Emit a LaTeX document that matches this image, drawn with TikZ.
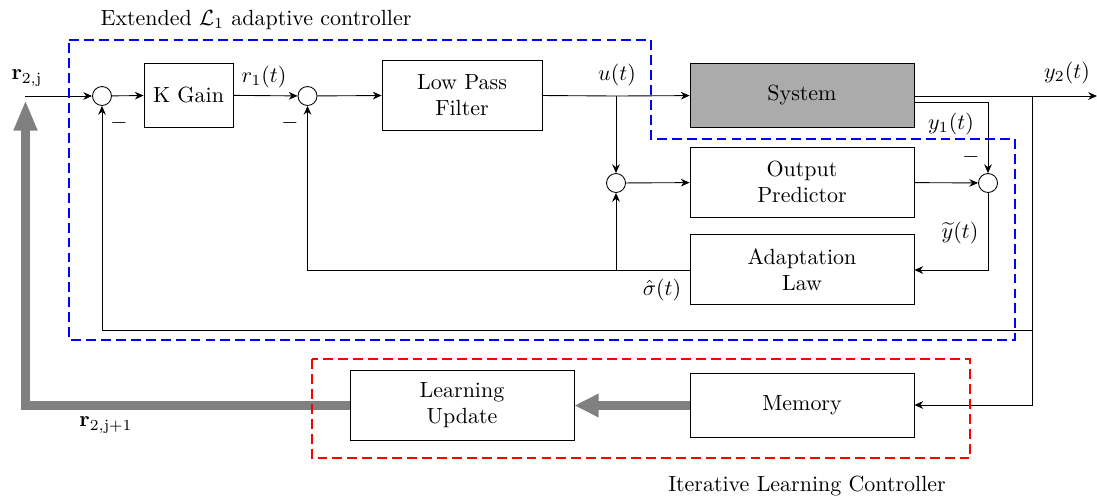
\documentclass[tikz,border=0pt]{standalone}
\usetikzlibrary{calc}
\usetikzlibrary{arrows.meta}

\tikzset{
  block/.style={draw, minimum width=3.584cm, minimum height=1.024cm, align=center},
  tallblock/.style={block, minimum height=1.12cm},
  sumnode/.style={draw, circle, minimum size=0.304cm, inner sep=0pt},
  sig/.style={-{Stealth[length=4pt,width=3.5pt]}},
  fatline/.style={draw=gray, line width=4pt},
  grouplc/.style={thick, dash pattern=on 4.5pt off 2.3pt},
  lbl/.style={inner sep=1pt},
}

\begin{document}
\begin{tikzpicture}[x=0.016cm,y=-0.016cm]

\useasboundingbox (0,0) rectangle (1097,498);

% controller blocks
\node[sumnode] (S1) at (102,96) {};
\node[block, minimum width=1.424cm] (K) at (188.5,95) {K Gain};
\node[sumnode] (S2) at (307.5,96) {};
\node[tallblock, minimum width=2.56cm] (LPF) at (462,95) {Low Pass\\Filter};
\node[block, fill=black!33] (SYS) at (802,95) {System};
\node[tallblock] (OP) at (802,182) {Output\\Predictor};
\node[tallblock] (AL) at (802,269.5) {Adaptation\\Law};
\node[sumnode] (S3) at (616,183) {};
\node[sumnode] (S4) at (988,183) {};

% learning blocks
\node[block] (MEM) at (802,405) {Memory};
\node[tallblock] (LU) at (462,405) {Learning\\Update};

% branch points
\coordinate (rin) at (25,96);
\coordinate (ubr) at (616,96);
\coordinate (yout) at (1097,96);
\coordinate (ybr) at (1032,96);
\coordinate (y1a) at (914,102);
\coordinate (sbr) at (616,270);
\coordinate (rtip) at (25.5,100);

% signals
\draw[sig] (rin) -- (S1);
\draw[sig] (S1) -- (K);
\draw[sig] (K) -- (S2);
\draw[sig] (S2) -- (LPF);
\draw (LPF) -- (ubr);
\draw[sig] (ubr) -- (SYS);
\draw[sig] (ubr) -- (S3);
\draw[sig] (S3) -- (OP);
\draw[sig] (SYS.east |- ybr) -- (yout);
\draw[sig] (y1a) -| (S4);
\draw[sig] (OP) -- (S4);
\draw[sig] (S4) |- (AL.east |- sbr);
\draw[sig] (AL.west |- sbr) -| (S2);
\draw[sig] (sbr) -- (S3);
\draw[sig] (ybr) |- (S1 |- 0,330) -- (S1);
\draw[sig] (ybr) |- (MEM.east |- 0,405);

% learning path
\draw[fatline, -{Triangle[length=11pt,width=10pt]}] (MEM.west |- 0,405.5) -- (LU.east |- 0,405.5);
\draw[fatline, -{Triangle[length=14pt,width=10pt]}] (LU.west |- 0,405.5) -| (rtip);

% labels
\node[lbl] (lr2j) at (27,78) {$\mathbf{r}_{2,\mathrm{j}}$};
\node[lbl] (lr2j1) at (106,425) {$\mathbf{r}_{2,\mathrm{j+1}}$};
\node[lbl] (lr1) at (264,77) {$r_1(t)$};
\node[lbl] (lu) at (617,75) {$u(t)$};
\node[lbl] (ly2) at (1067,73) {$y_2(t)$};
\node[lbl] (ly1) at (951,124) {$y_1(t)$};
\node[lbl] (lyt) at (960,233) {$\widetilde{y}(t)$};
\node[lbl] (lsig) at (662,290) {$\hat{\sigma}(t)$};
\node[lbl] (m1) at (119,123) {$-$};
\node[lbl] (m2) at (290,123) {$-$};
\node[lbl] (m4) at (971,157) {$-$};

% groups
\draw[blue, grouplc] (69,40) -- (651,40) -- (651,139) -- (1015,139) -- (1015,340) -- (69,340) -- cycle;
\draw[red, grouplc] (312,359) rectangle (970,458);
\node (ctrl) at (256,20) {Extended $\mathcal{L}_1$ adaptive controller};
\node (ilc) at (807,486) {Iterative Learning Controller};

\end{tikzpicture}
\end{document}
